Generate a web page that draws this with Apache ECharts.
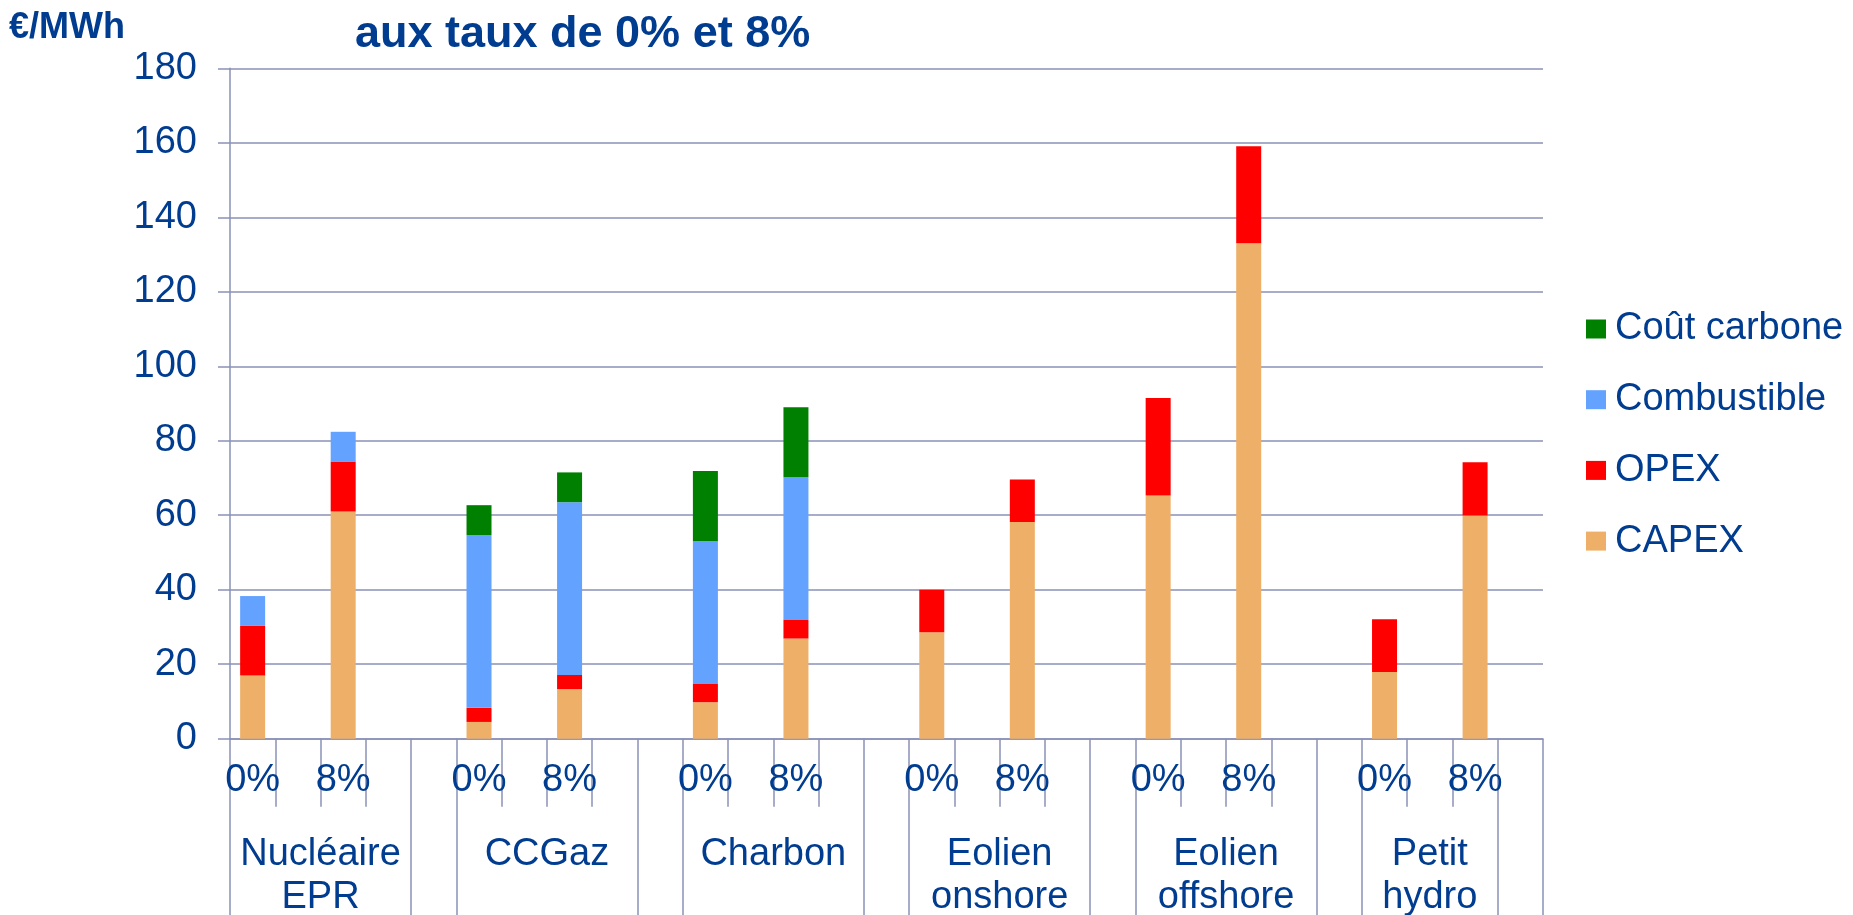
<!DOCTYPE html>
<html>
<head>
<meta charset="utf-8">
<script src="https://cdn.jsdelivr.net/npm/echarts@6/dist/echarts.min.js"></script>
<style>
  html, body { margin: 0; padding: 0; background: #fff; }
  #chart { width: 1853px; height: 915px; }
</style>
</head>
<body>
<div id="chart"></div>
<script>
// groupes de technologies et taux d'actualisation
var groups = ['Nucléaire\nEPR', 'CCGaz', 'Charbon', 'Eolien\nonshore', 'Eolien\noffshore', 'Petit\nhydro'];
var rates = ['0%', '8%'];

// valeurs en €/MWh, une par barre (groupe x taux)
var capex       = [17.0, 61.0, 4.5, 13.3, 9.8, 26.9, 28.6, 58.2, 65.3, 133.0, 17.9, 59.9];
var opex        = [13.3, 13.4, 3.8, 3.8, 4.9, 5.0, 11.4, 11.4, 26.2, 26.1, 14.2, 14.3];
var combustible = [8.0, 8.0, 46.4, 46.4, 38.4, 38.3, 0, 0, 0, 0, 0, 0];
var carbone     = [0, 0, 8.0, 8.0, 18.8, 18.8, 0, 0, 0, 0, 0, 0];

var yTicks = [0, 20, 40, 60, 80, 100, 120, 140, 160, 180];

var TXT = '#003c8f';
var LINE = '#8a91b6';
var FONT = 'Liberation Sans, Arial, sans-serif';
var FS = 38;

// 5 cases par groupe : 0%, vide, 8%, vide, separation
var nSlots = groups.length * 5 - 1;
var slotLabels = [];
for (var i = 0; i < nSlots; i++) slotLabels.push('');
for (var g = 0; g < groups.length; g++) {
    slotLabels[g * 5] = rates[0];
    slotLabels[g * 5 + 2] = rates[1];
}

function toSlots(arr) {
    var out = [];
    for (var i = 0; i < nSlots; i++) out.push('-');
    for (var g = 0; g < groups.length; g++) {
        out[g * 5] = arr[g * 2] || '-';
        out[g * 5 + 2] = arr[g * 2 + 1] || '-';
    }
    return out;
}

// limites et centres des groupes sur le second niveau
var groupTicks = [0];
var groupCenters = [];
for (var g = 0; g < groups.length; g++) {
    var s = g * 5;
    if (g < groups.length - 1) {
        groupTicks.push(s + 4, s + 5);
        groupCenters.push(s + 2);
    } else {
        groupTicks.push(s + 3, s + 4);
        groupCenters.push(s + 1.5);
    }
}

function bar(name, arr, color) {
    return {
        name: name,
        type: 'bar',
        stack: 'total',
        barWidth: 25,
        data: toSlots(arr),
        itemStyle: { color: color },
        emphasis: { disabled: true }
    };
}

var myChart = echarts.init(document.getElementById('chart'));
var option = {
    animation: false,
    textStyle: { fontFamily: FONT },
    grid: { left: 230, right: 310, top: 68.3, bottom: 176.3, containLabel: false, outerBoundsMode: 'none' },
    legend: {
        orient: 'vertical',
        left: 1586,
        top: 310,
        padding: 0,
        icon: 'rect',
        itemWidth: 20,
        itemHeight: 19,
        itemGap: 32.7,
        data: ['Coût carbone', 'Combustible', 'OPEX', 'CAPEX'],
        textStyle: { color: TXT, fontSize: FS, fontFamily: FONT, padding: [0, 0, 0, 4] }
    },
    xAxis: [{
        type: 'category',
        data: slotLabels,
        axisLine: { lineStyle: { color: LINE, width: 1.5 } },
        axisTick: { show: true, interval: 0, length: 68, lineStyle: { color: LINE, width: 1.5 } },
        axisLabel: { interval: 0, color: TXT, fontSize: FS, fontFamily: FONT, margin: 23 },
        splitLine: { show: false }
    }, {
        type: 'value',
        min: 0,
        max: nSlots,
        position: 'bottom',
        axisLine: { show: false },
        splitLine: { show: false },
        axisTick: { show: true, length: 200, customValues: groupTicks, lineStyle: { color: LINE, width: 1.5 } },
        axisLabel: {
            customValues: groupCenters,
            color: TXT, fontSize: FS, fontFamily: FONT, lineHeight: 43, margin: 94,
            formatter: function (v) {
                var k = groupCenters.indexOf(v);
                return k >= 0 ? groups[k] : '';
            }
        }
    }],
    yAxis: {
        type: 'value',
        min: yTicks[0],
        max: yTicks[yTicks.length - 1],
        interval: 20,
        axisLine: { show: true, lineStyle: { color: LINE, width: 1.5 } },
        axisTick: { show: true, length: 12, lineStyle: { color: LINE, width: 1.5 } },
        axisLabel: { color: TXT, fontSize: FS, fontFamily: FONT, margin: 33 },
        splitLine: { lineStyle: { color: LINE, width: 1.5 } }
    },
    series: [
        bar('CAPEX', capex, '#eeb068'),
        bar('OPEX', opex, '#ff0000'),
        bar('Combustible', combustible, '#63a2ff'),
        bar('Coût carbone', carbone, '#008000')
    ],
    graphic: [{
        type: 'text',
        left: 9,
        top: 10,
        style: { text: '€/MWh', fill: TXT, font: 'bold 36px ' + FONT }
    }, {
        type: 'text',
        left: 355,
        top: 12,
        style: { text: 'aux taux de 0% et 8%', fill: TXT, font: 'bold 45px ' + FONT }
    }]
};
myChart.setOption(option);
</script>
</body>
</html>
